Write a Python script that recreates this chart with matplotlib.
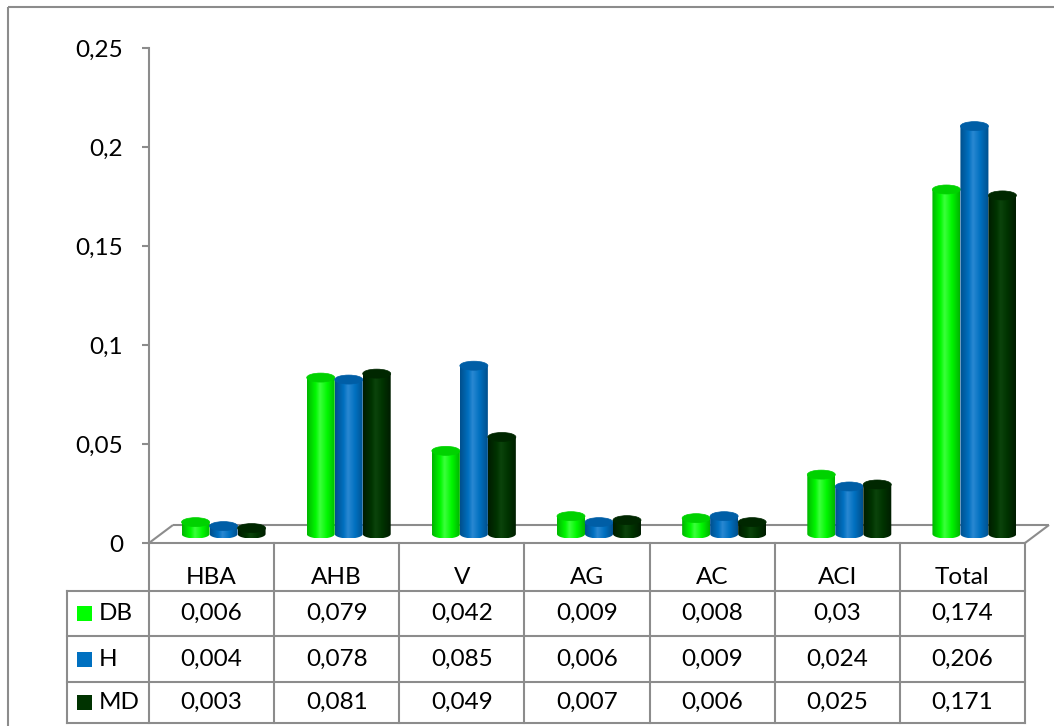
import numpy as np
import matplotlib
matplotlib.use("Agg")
import matplotlib.pyplot as plt
from matplotlib.patches import Polygon, Ellipse, Rectangle
from matplotlib.colors import LinearSegmentedColormap
from matplotlib.ticker import FuncFormatter

# ---- data -------------------------------------------------------------
categories = ["HBA", "AHB", "V", "AG", "AC", "ACI", "Total"]
series_names = ["DB", "H", "MD"]
db_values = [0.006, 0.079, 0.042, 0.009, 0.008, 0.03, 0.174]
h_values = [0.004, 0.078, 0.085, 0.006, 0.009, 0.024, 0.206]
md_values = [0.003, 0.081, 0.049, 0.007, 0.006, 0.025, 0.171]
y_ticks = [0, 0.05, 0.1, 0.15, 0.2, 0.25]

series_values = [db_values, h_values, md_values]
# (edge, body, highlight, top face) per series
series_colors = [
    ("#00b400", "#00f800", "#3cff3c", "#00d200"),
    ("#004f8c", "#0070c0", "#2a88d2", "#005ea6"),
    ("#001c00", "#003300", "#0b440b", "#002700"),
]
legend_colors = ["#00ff00", "#0070c0", "#003300"]

plt.rcParams['font.family'] = ['Lato', 'DejaVu Sans']
GRAY = "#8c8c8c"
FS = 17.5

W, H = 1054, 726
fig = plt.figure(figsize=(W / 100, H / 100), dpi=100)

# plot area (pixels)
PX_L, PX_R, PX_T, PX_B = 149, 1025, 48, 543
ncat = len(categories)
ymax = 0.25
ax = fig.add_axes([PX_L / W, 1 - PX_B / H, (PX_R - PX_L) / W, (PX_B - PX_T) / H])
ax.set_autoscale_on(False)
ax.set_xlim(0, ncat)
ax.set_ylim(0, ymax)
ax.patch.set_visible(False)

sx = (PX_R - PX_L) / ncat   # px per category
sy = (PX_B - PX_T) / ymax   # px per value unit

for s in ("top", "right"):
    ax.spines[s].set_visible(False)
for s in ("left", "bottom"):
    ax.spines[s].set_color(GRAY)
    ax.spines[s].set_linewidth(1.5)

ax.set_xticks([])
ax.set_yticks(y_ticks)
ax.yaxis.set_major_formatter(FuncFormatter(lambda v, _: f"{v:g}".replace(".", ",")))
ax.tick_params(axis="y", length=5, width=1.5, color=GRAY, pad=13.5, labelsize=FS)

# 3-D floor: back edge and side edges
fdx, fdy = 24 / sx, 18 / sy
floor_kw = dict(color=GRAY, lw=1.5, clip_on=False, zorder=1, solid_capstyle="butt")
ax.plot([fdx, ncat + fdx], [fdy, fdy], **floor_kw)
ax.plot([0, fdx], [0, fdy], **floor_kw)
ax.plot([ncat, ncat + fdx], [0, fdy], **floor_kw)

# cylinders sit in the middle of the floor depth
bdx, bdy = 12 / sx, 9 / sy
bar_w = 28 / sx
ell_h = 9 / sy


def cylinder(xc, base, value, cols, z):
    edge, body, light, top = cols
    xl, xr = xc - bar_w / 2, xc + bar_w / 2
    t = np.linspace(0, np.pi, 40)
    arc = np.column_stack([xc + bar_w / 2 * np.cos(t), base - ell_h / 2 * np.sin(t)])
    verts = np.vstack([[[xl, base + value], [xr, base + value]], arc])
    clip = Polygon(verts, closed=True, facecolor="none", edgecolor="none", zorder=z)
    ax.add_patch(clip)
    cmap = LinearSegmentedColormap.from_list(
        "cyl", [(0, edge), (0.3, body), (0.45, light), (0.7, body), (1, edge)])
    grad = np.linspace(0, 1, 256).reshape(1, -1)
    im = ax.imshow(grad, cmap=cmap, extent=[xl, xr, base - ell_h / 2, base + value],
                   aspect="auto", origin="lower", interpolation="bilinear", zorder=z)
    im.set_clip_path(clip)
    ax.add_patch(Ellipse((xc, base + value), bar_w, ell_h, facecolor=top,
                         edgecolor=top, lw=0.5, zorder=z + 0.1))


for i in range(ncat):
    for j, vals in enumerate(series_values):
        xc = i + 0.5 + bdx + (j - 1) * bar_w
        cylinder(xc, bdy, vals[i], series_colors[j], 2 + i * 3 + j)

ax.set_xlim(0, ncat)
ax.set_ylim(0, ymax)

# ---- overlay in pixel units: frame and data table ---------------------
ov = fig.add_axes([0, 0, 1, 1])
ov.set_xlim(0, W)
ov.set_ylim(H, 0)
ov.axis("off")

ov.add_patch(Rectangle((8, 7), W + 20, H + 20, facecolor="none", edgecolor=GRAY, lw=1.5))

col_x = [PX_L + k * sx for k in range(ncat + 1)]
row_y = [PX_B, 591, 636, 682, 723]
LEG_L = 67
line_kw = dict(color=GRAY, lw=1.5, solid_capstyle="projecting")
for x in col_x:
    ov.plot([x, x], [PX_B, row_y[-1]], **line_kw)
ov.plot([LEG_L, LEG_L], [row_y[1], row_y[-1]], **line_kw)
for y in row_y[1:]:
    ov.plot([LEG_L, PX_R], [y, y], **line_kw)

for k, cat in enumerate(categories):
    ov.text((col_x[k] + col_x[k + 1]) / 2, 577, cat, ha="center", va="center", fontsize=FS)

for j, (name, vals) in enumerate(zip(series_names, series_values)):
    yc = (row_y[j + 1] + row_y[j + 2]) / 2
    ov.add_patch(Rectangle((77, yc - 7.5), 15, 15, facecolor=legend_colors[j], edgecolor="none"))
    ov.text(99, yc, name, ha="left", va="center", fontsize=FS)
    for k, v in enumerate(vals):
        ov.text((col_x[k] + col_x[k + 1]) / 2, yc, f"{v:g}".replace(".", ","),
                ha="center", va="center", fontsize=FS)

fig.savefig("out.png", dpi=100)
